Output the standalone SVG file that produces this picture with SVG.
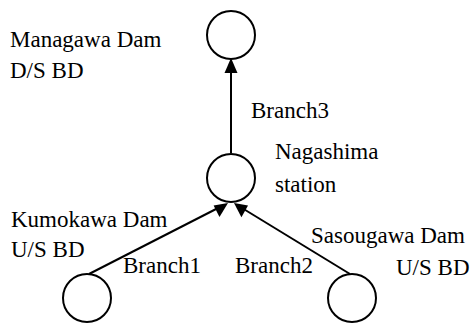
<svg xmlns="http://www.w3.org/2000/svg" width="471" height="325" viewBox="0 0 471 325">
<style>
.n{fill:none;stroke:#000;stroke-width:2}
.c{stroke:#000;stroke-width:2;fill:none}
</style>
<rect width="471" height="325" fill="#fff"/>
<g id="connectors">
<line class="c" x1="231" y1="153" x2="231" y2="65"/>
<line class="c" x1="89" y1="274" x2="220" y2="207"/>
<line class="c" x1="350" y1="274" x2="242" y2="208"/>
<path d="M231,58 L224.5,73 L237.5,73 Z" fill="#000"/>
<path d="M228,203 L213.6,205.5 L219.5,217 Z" fill="#000"/>
<path d="M234,203 L241.4,217.3 L248,205.6 Z" fill="#000"/>
</g>
<g id="managawa">
<circle class="n" cx="231" cy="35" r="24"/>
<text font-family="Liberation Serif" font-size="23" x="10" y="47">Managawa Dam</text>
<text font-family="Liberation Serif" font-size="23" x="10" y="78">D/S BD</text>
</g>
<g id="nagashima">
<circle class="n" cx="231" cy="178" r="24"/>
<text font-family="Liberation Serif" font-size="23" x="275" y="159">Nagashima</text>
<text font-family="Liberation Serif" font-size="23" x="275" y="192">station</text>
</g>
<g id="kumokawa">
<circle class="n" cx="87" cy="298" r="24"/>
<text font-family="Liberation Serif" font-size="23" x="11" y="227">Kumokawa Dam</text>
<text font-family="Liberation Serif" font-size="23" x="11" y="257">U/S BD</text>
</g>
<g id="sasougawa">
<circle class="n" cx="352" cy="298" r="24"/>
<text font-family="Liberation Serif" font-size="23" x="311" y="243">Sasougawa Dam</text>
<text font-family="Liberation Serif" font-size="23" x="396" y="275">U/S BD</text>
</g>
<g id="labels">
<text font-family="Liberation Serif" font-size="23" x="251" y="118">Branch3</text>
<text font-family="Liberation Serif" font-size="23" x="123" y="273">Branch1</text>
<text font-family="Liberation Serif" font-size="23" x="235" y="273">Branch2</text>
</g>
</svg>
